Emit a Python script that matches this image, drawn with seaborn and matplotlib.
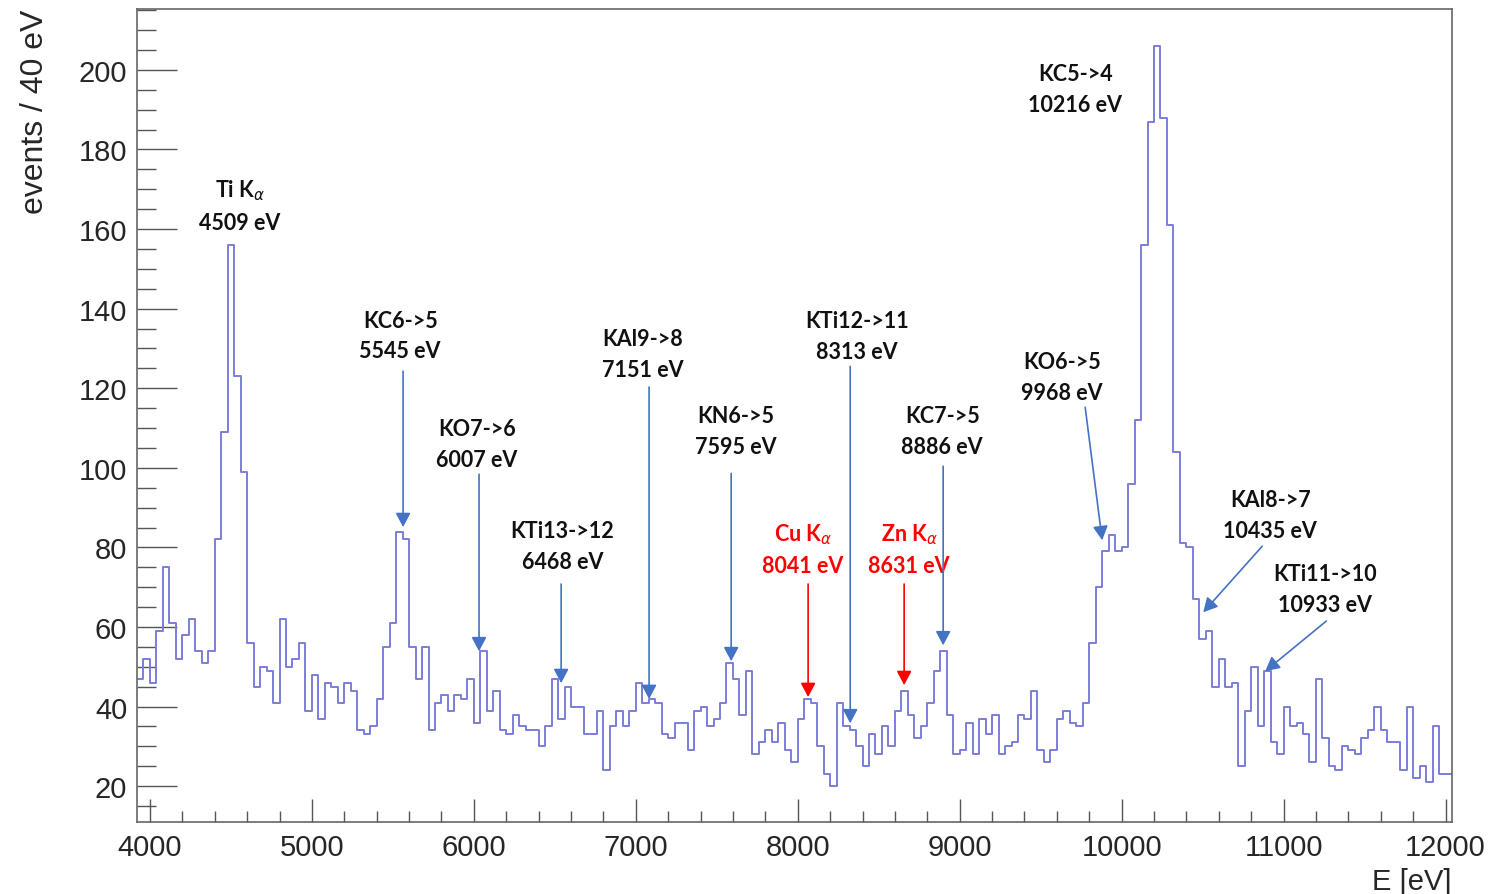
import numpy as np
import pandas as pd
import matplotlib
matplotlib.use("Agg")
import matplotlib.pyplot as plt
from matplotlib.ticker import MultipleLocator
import seaborn as sns

# ---------------- data ----------------
bin_width = 40          # eV
first_edge = 3920       # eV
counts = [
    47, 52, 46, 59, 75, 61, 52, 58, 62, 54, 51, 54, 82, 109, 156, 123, 99, 56, 45, 50,   # 3920-4680
    49, 41, 62, 50, 52, 56, 39, 48, 37, 46, 45, 41, 46, 44, 34, 33, 35, 42, 55, 61,      # 4720-5480
    84, 82, 55, 47, 55, 34, 41, 43, 39, 43, 42, 47, 36, 54, 39, 44, 34, 33, 38, 35,      # 5520-6280
    34, 34, 30, 35, 47, 37, 45, 40, 40, 33, 33, 39, 24, 35, 39, 35, 39, 46, 41, 42,      # 6320-7080
    41, 33, 32, 36, 36, 29, 39, 40, 35, 37, 41, 51, 47, 38, 49, 28, 31, 34, 31, 36,      # 7120-7880
    29, 26, 37, 42, 41, 30, 23, 20, 41, 35, 34, 30, 25, 33, 28, 35, 30, 39, 44, 38,      # 7920-8680
    32, 35, 41, 49, 54, 38, 28, 29, 36, 28, 37, 33, 38, 28, 30, 31, 38, 37, 44, 29,      # 8720-9480
    26, 29, 37, 39, 36, 35, 41, 56, 70, 79, 83, 79, 80, 96, 112, 156, 187, 206, 188, 161,  # 9520-10280
    104, 81, 80, 67, 57, 59, 45, 52, 45, 46, 25, 39, 50, 35, 49, 31, 28, 40, 35, 36,     # 10320-11080
    33, 26, 47, 32, 25, 24, 30, 29, 28, 32, 34, 40, 34, 31, 31, 24, 40, 22, 25, 21,      # 11120-11880
    35, 23, 23,                                                                           # 11920-12000
]

# peak annotations: label, text centre (E, counts), arrow tail, arrow tip, colour
ann_labels = ["Ti K$_{\\alpha}$\n4509 eV", "KC6->5\n5545 eV", "KO7->6\n6007 eV",
              "KTi13->12\n6468 eV", "KAl9->8\n7151 eV", "KN6->5\n7595 eV",
              "Cu K$_{\\alpha}$\n8041 eV", "KTi12->11\n8313 eV", "Zn K$_{\\alpha}$\n8631 eV",
              "KC7->5\n8886 eV", "KO6->5\n9968 eV", "KC5->4\n10216 eV",
              "KAl8->7\n10435 eV", "KTi11->10\n10933 eV"]
ann_text_x = [4556, 5545, 6020, 6548, 7045, 7620, 8033, 8367, 8688, 8892, 9633, 9713, 10918, 11258]
ann_text_y = [166.0, 133.3, 106.0, 80.4, 128.6, 109.2, 79.7, 133.1, 79.7, 109.3, 122.8, 195.2, 88.2, 69.5]
ann_tail_x = [None, 5563, 6032, 6539, 7082, 7589, 8064, 8324, 8657, 8898, 9775, None, 10868, 11264]
ann_tail_y = [None, 124.3, 98.4, 70.8, 120.3, 98.6, 70.8, 125.5, 70.8, 100.4, 115.2, None, 80.3, 61.5]
ann_tip_x = [None, 5563, 6032, 6539, 7082, 7589, 8064, 8324, 8657, 8898, 9880, None, 10504, 10887]
ann_tip_y = [None, 85.1, 53.9, 45.9, 41.9, 51.4, 42.4, 35.8, 45.4, 55.4, 81.8, None, 63.7, 48.9]
ann_colors = ["black", "blue", "blue", "blue", "blue", "blue", "red", "blue", "red",
              "blue", "blue", "black", "blue", "blue"]

x_label = "E [eV]"
y_label = "events / 40 eV"
x_range = (3920, 12040)
y_range = (11.0, 215.3)

# ---------------- plot ----------------
edges = first_edge + bin_width * np.arange(len(counts) + 1)
df = pd.DataFrame({"E": edges[:-1] + bin_width / 2, "n": counts})

sns.set_style("ticks")
plt.rcParams["font.family"] = ["Liberation Sans", "DejaVu Sans"]
plt.rcParams["mathtext.fontset"] = "dejavusans"

fig = plt.figure(figsize=(14.91, 8.95), dpi=100)
ax = fig.add_axes([137 / 1491, 1 - 823 / 895, (1452 - 137) / 1491, (823 - 10) / 895])

sns.histplot(data=df, x="E", weights="n", bins=[float(e) for e in edges],
             element="step", fill=False, color="#7a7ed8", linewidth=1.4, ax=ax)

ax.set_xlim(*x_range)
ax.set_ylim(*y_range)

ax.xaxis.set_major_locator(MultipleLocator(1000))
ax.xaxis.set_minor_locator(MultipleLocator(200))
ax.yaxis.set_major_locator(MultipleLocator(20))
ax.yaxis.set_minor_locator(MultipleLocator(5))
ax.tick_params(axis="y", which="major", direction="in", length=29, width=1.0,
               color="#555555", labelsize=21, pad=7)
ax.tick_params(axis="y", which="minor", direction="in", length=14, width=1.0, color="#555555")
ax.tick_params(axis="x", which="major", direction="in", length=16.5, width=1.0,
               color="#555555", labelsize=21, pad=8)
ax.tick_params(axis="x", which="minor", direction="in", length=8, width=1.0, color="#555555")
for s in ax.spines.values():
    s.set_color("#666666")
    s.set_linewidth(1.2)

ax.set_xlabel(x_label, loc="right", fontsize=21, labelpad=4)
ax.set_ylabel(y_label, loc="top", fontsize=23, labelpad=21)

color_map = {"blue": "#4472C4", "red": "#FF0000", "black": "#000000"}
for lab, tx, ty, ax0, ay0, ax1, ay1, c in zip(ann_labels, ann_text_x, ann_text_y,
                                              ann_tail_x, ann_tail_y, ann_tip_x, ann_tip_y,
                                              ann_colors):
    txt_color = "#FF0000" if c == "red" else "#111111"
    ax.text(tx, ty, lab, ha="center", va="center", fontsize=15.5, fontweight="bold",
            family=["Lato", "DejaVu Sans"], color=txt_color, linespacing=1.56)
    if ax0 is not None:
        ax.annotate("", xy=(ax1, ay1), xytext=(ax0, ay0),
                    arrowprops=dict(arrowstyle="-|>,head_length=0.85,head_width=0.45",
                                    mutation_scale=10, color=color_map[c], lw=1.2,
                                    shrinkA=0, shrinkB=0))

fig.savefig("out.png", dpi=100)
